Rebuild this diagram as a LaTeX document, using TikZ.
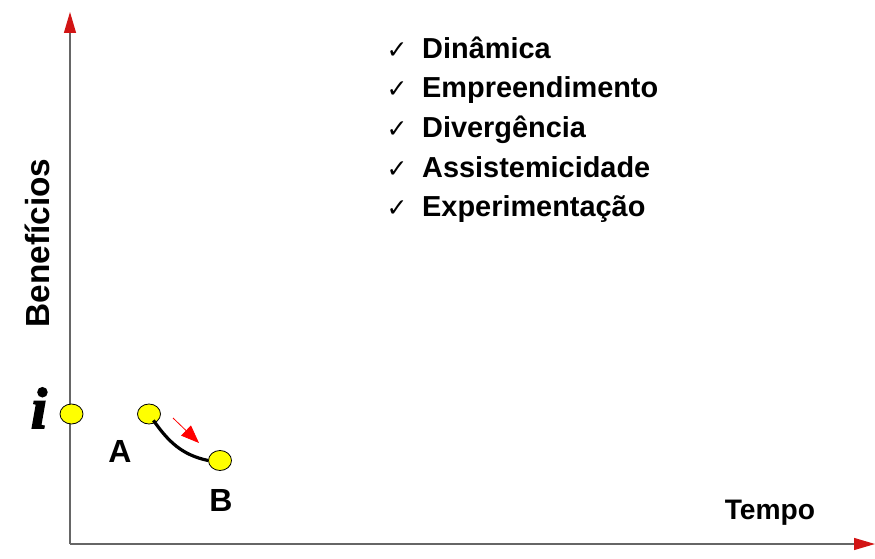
\documentclass[tikz,border=0pt]{standalone}
\usepackage{fontspec}
\setmainfont{Liberation Sans}
\newfontfamily\checkfont{DejaVu Sans}
\newfontfamily\seriffont{Liberation Serif}[FakeBold=3]
\usetikzlibrary{arrows.meta,shapes.geometric}

\definecolor{tipred}{RGB}{210,20,20}
\definecolor{movered}{RGB}{255,0,0}
\definecolor{dotyellow}{RGB}{255,255,0}

\tikzset{
  axis/.style={draw=gray!80!black, line width=1.2pt,
    -{Triangle[length=21pt, width=12pt, color=tipred, fill=tipred]}},
  point/.style={ellipse, draw=black, line width=0.8pt, fill=dotyellow,
    minimum width=23pt, minimum height=20pt, inner sep=0pt},
  lbl/.style={font=\bfseries\fontsize{32}{36}\selectfont, inner sep=0pt},
  item/.style={font=\bfseries\fontsize{28.9}{32}\selectfont, anchor=base west, inner sep=0pt},
  tick/.style={font=\checkfont\fontsize{25}{28}\selectfont, anchor=base, inner sep=0pt},
}

\begin{document}
\begin{tikzpicture}[x=1pt, y=1pt]
  \useasboundingbox (0,0) rectangle (875,558);

  % Axes
  \coordinate (o)    at (70,14);
  \coordinate (ytip) at (70,546);
  \coordinate (xtip) at (875,14);
  \draw[axis] (o) -- (ytip);
  \draw[axis] (o) -- (xtip);

  \node[font=\bfseries\fontsize{33.4}{36}\selectfont, inner sep=0pt, rotate=90] (benef) at (37,315) {Benefícios};
  \node[font=\bfseries\fontsize{28.2}{30}\selectfont, inner sep=0pt] (tempo) at (770,45) {Tempo};

  % Points
  \node[point] (i) at (71.5,144) {};
  \node[point] (a) at (149,144) {};
  \node[point] (b) at (220,97.5) {};

  \node[font=\seriffont\bfseries\itshape\fontsize{58}{64}\selectfont, inner sep=0pt] (ilbl) at (39,150) {i};
  \node[lbl] (albl) at (120,107) {A};
  \node[lbl] (blbl) at (221,58) {B};

  \draw[line width=3.2pt] (a.south east) ++(-4pt,1pt) coordinate (a1)
    (a1) to[out=-55, in=168] (b.west);

  \coordinate (m1) at (173,140);
  \coordinate (m2) at (199,115);
  \draw[movered, line width=0.8pt,
    -{Triangle[length=18pt, width=14pt]}] (m1) -- (m2);

  % List
  \node[tick] (c1) at (397,499.5) {✓};
  \node[item] (t1) at (422,499.5) {Dinâmica};
  \node[tick] (c2) at (397,460) {✓};
  \node[item] (t2) at (422,460) {Empreendimento};
  \node[tick] (c3) at (397,420.5) {✓};
  \node[item] (t3) at (422,420.5) {Divergência};
  \node[tick] (c4) at (397,381) {✓};
  \node[item] (t4) at (422,381) {Assistemicidade};
  \node[tick] (c5) at (397,341.5) {✓};
  \node[item] (t5) at (422,341.5) {Experimentação};
\end{tikzpicture}
\end{document}
